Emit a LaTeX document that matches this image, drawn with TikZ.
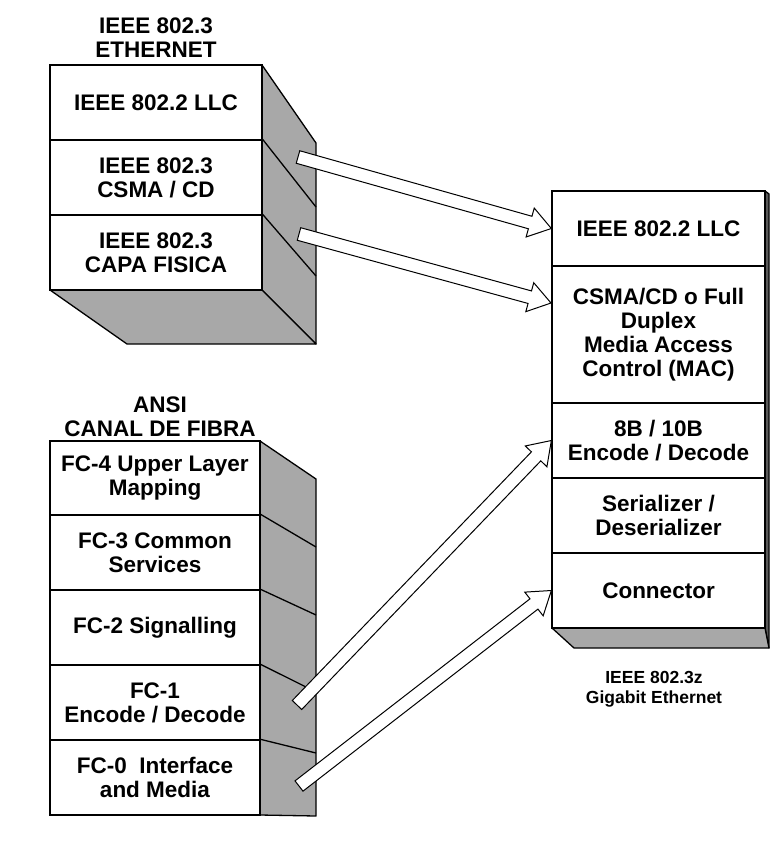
\documentclass[tikz,border=0pt]{standalone}
\usepackage{fontspec}
\setmainfont{Liberation Sans}
\usepackage{tikz}
\usetikzlibrary{calc}

\definecolor{sidegray}{gray}{0.66}
\definecolor{edgegray}{gray}{0.35}

\tikzset{
    layer/.style={draw, line width=1.3pt, fill=white, align=center, inner sep=0pt,
        font=\bfseries\fontsize{22.5}{24}\selectfont},
    stacktitle/.style={align=center, inner sep=0pt,
        font=\bfseries\fontsize{22.5}{24}\selectfont},
    side/.style={draw, line width=1.3pt, fill=sidegray, line join=round},
    edge/.style={line width=1.3pt}
}

% hollow block arrow from #1 (tail) to #2 (tip)
\newcommand{\blockarrow}[2]{%
    \draw[line width=1pt, fill=white, line join=miter]
        ($(#1)!6.5pt!90:(#2)$)
        -- ($(#2)!22pt!(#1)!6.5pt!90:(#2)$)
        -- ($(#2)!22pt!(#1)!15pt!90:(#2)$)
        -- (#2)
        -- ($(#2)!22pt!(#1)!15pt!-90:(#2)$)
        -- ($(#2)!22pt!(#1)!6.5pt!-90:(#2)$)
        -- ($(#1)!6.5pt!-90:(#2)$) -- cycle;}

\begin{document}
\begin{tikzpicture}[x=1pt, y=-1pt]
    \useasboundingbox (0,0) rectangle (775,854);

    % Ethernet stack: side and bottom faces
    \draw[side] (262,65) -- (316,143) -- (316,344) -- (262,290) -- cycle;
    \draw[side] (50,290) -- (262,290) -- (316,344) -- (127,344) -- cycle;

    % Ethernet stack: front layers
    \node[stacktitle] (ethTitle) at (156,38) {IEEE 802.3\\ETHERNET};
    \node[layer, minimum width=212pt, minimum height=75pt] (ethLLC) at (156,102.5) {IEEE 802.2 LLC};
    \node[layer, minimum width=212pt, minimum height=75pt] (ethCSMA) at (156,177.5) {IEEE 802.3\\CSMA / CD};
    \node[layer, minimum width=212pt, minimum height=75pt] (ethPHY) at (156,252.5) {IEEE 802.3\\CAPA FISICA};
    \draw[edge] (ethCSMA.north east) -- (316,207);
    \draw[edge] (ethPHY.north east) -- (316,276);

    % Fibre channel stack: side face
    \draw[side] (260,441) -- (316,479) -- (316,816) -- (260,815) -- cycle;

    % Fibre channel stack: front layers
    \node[stacktitle] (fcTitle) at (160,417) {ANSI\\CANAL DE FIBRA};
    \node[layer, minimum width=210pt, minimum height=74pt] (fcFour) at (155,478) {FC-4 Upper Layer\\Mapping};
    \node[layer, minimum width=210pt, minimum height=75pt] (fcThree) at (155,552.5) {FC-3 Common\\Services};
    \node[layer, minimum width=210pt, minimum height=75pt] (fcTwo) at (155,627.5) {FC-2 Signalling};
    \node[layer, minimum width=210pt, minimum height=75pt] (fcOne) at (155,702.5) {FC-1\\Encode / Decode};
    \node[layer, minimum width=210pt, minimum height=75pt] (fcZero) at (155,777.5) {FC-0\ \ Interface\\and Media};
    \draw[edge] (fcThree.north east) -- (316,547);
    \draw[edge] (fcTwo.north east) -- (316,615);
    \draw[edge] (fcOne.north east) -- (316,692);
    \draw[edge] (fcZero.north east) -- (316,753);

    % Gigabit Ethernet stack: thin side and bottom faces
    \draw[side, fill=edgegray] (765,191) -- (769,194) -- (769,648) -- (765,628) -- cycle;
    \draw[side] (552,628) -- (765,628) -- (769,648) -- (574,648) -- cycle;

    % Gigabit Ethernet stack: front layers
    \node[layer, minimum width=213pt, minimum height=75pt] (gbeLLC) at (658.5,228.5) {IEEE 802.2 LLC};
    \node[layer, minimum width=213pt, minimum height=137pt] (gbeMAC) at (658.5,334.5) {CSMA/CD o Full\\Duplex\\Media Access\\Control (MAC)};
    \node[layer, minimum width=213pt, minimum height=75pt] (gbeCode) at (658.5,440.5) {8B / 10B\\Encode / Decode};
    \node[layer, minimum width=213pt, minimum height=75pt] (gbeSerdes) at (658.5,515.5) {Serializer /\\Deserializer};
    \node[layer, minimum width=213pt, minimum height=75pt] (gbeConn) at (658.5,590.5) {Connector};
    \node[align=center, inner sep=0pt, font=\bfseries\fontsize{17.5}{20.5}\selectfont] (gbeTitle) at (654,689) {IEEE 802.3z\\Gigabit Ethernet};

    % Arrow ends
    \coordinate (csmaTail) at (298,157);
    \coordinate (phyTail) at (299,234);
    \coordinate (macTip) at (551,303);
    \coordinate (fcOneTail) at (297,705);
    \coordinate (fcZeroTail) at (299,786);

    % Block arrows
    \blockarrow{csmaTail}{gbeLLC.west}
    \blockarrow{phyTail}{macTip}
    \blockarrow{fcOneTail}{gbeCode.west}
    \blockarrow{fcZeroTail}{gbeConn.west}

\end{tikzpicture}
\end{document}
